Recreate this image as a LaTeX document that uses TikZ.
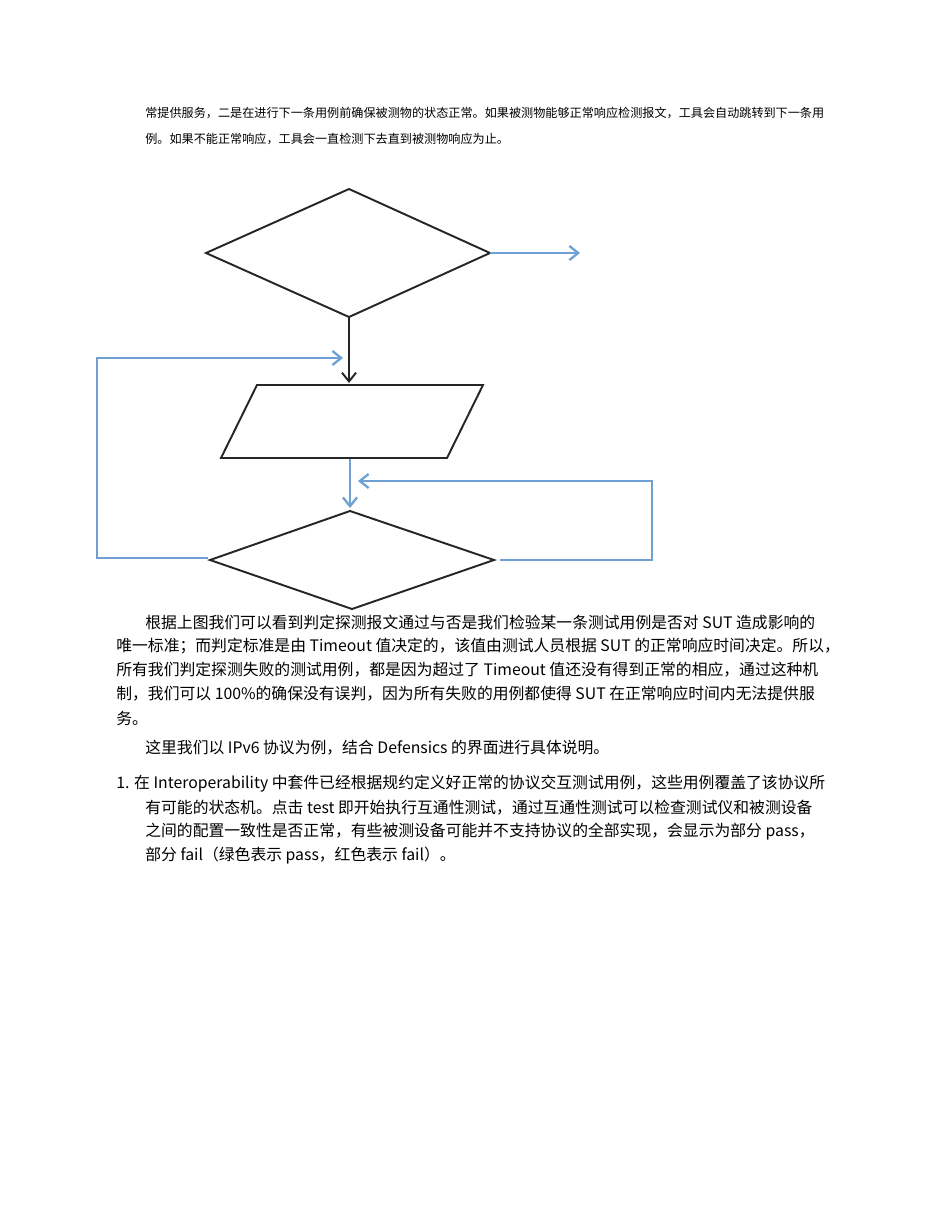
\documentclass[tikz,border=0pt]{standalone}
\usepackage{fontspec}
\setmainfont{Noto Sans CJK SC}
\usetikzlibrary{arrows.meta}
\definecolor{lblue}{RGB}{110,160,210}
\tikzset{
  shapeline/.style={draw=black!85,line width=1.1pt},
  bluearrow/.style={draw=lblue,line width=1.3pt,-{Straight Barb[length=5pt,width=8pt]}},
  blackarrow/.style={draw=black!85,line width=1.1pt,-{Straight Barb[length=5pt,width=8pt]}},
  small/.style={anchor=west,inner sep=0pt,font=\fontsize{6.9}{8}\selectfont},
  body/.style={anchor=west,inner sep=0pt,font=\fontsize{9}{11}\selectfont}
}
\begin{document}
\begin{tikzpicture}[x=0.02cm,y=-0.02cm]
\fill[white] (0,0) rectangle (950,1206);
\useasboundingbox (0,0) rectangle (950,1206);
\node[small] (t1) at (145,113) {常提供服务，二是在进行下一条用例前确保被测物的状态正常。如果被测物能够正常响应检测报文，工具会自动跳转到下一条用};
\node[small] (t2) at (145,139) {例。如果不能正常响应，工具会一直检测下去直到被测物响应为止。};
\draw[shapeline] (349,189) -- (490,253) -- (349,317) -- (206,253) -- cycle;
\coordinate (d1r) at (490,253); \coordinate (d1e) at (580,253);
\coordinate (d1b) at (349,317); \coordinate (p1t) at (349,383);
\draw[shapeline] (257,385) -- (483,385) -- (447,458) -- (221,458) -- cycle;
\coordinate (p1b) at (350,459); \coordinate (d2t) at (350,508);
\draw[shapeline] (350,511) -- (494,560) -- (352,609) -- (210,560) -- cycle;
\draw[bluearrow] (d1r) -- (d1e);
\draw[blackarrow] (d1b) -- (p1t);
\draw[bluearrow] (p1b) -- (d2t);
\coordinate (l1) at (208,558); \coordinate (l2) at (343,358);
\draw[bluearrow] (l1) -- (97,558) -- (97,358) -- (l2);
\coordinate (r1) at (500,560); \coordinate (r2) at (358,481);
\draw[bluearrow] (r1) -- (652,560) -- (652,481) -- (r2);
\node[body] (b1) at (145,622) {根据上图我们可以看到判定探测报文通过与否是我们检验某一条测试用例是否对 SUT 造成影响的};
\node[body] (b2) at (116,646) {唯一标准；而判定标准是由 Timeout 值决定的，该值由测试人员根据 SUT 的正常响应时间决定。所以，};
\node[body] (b3) at (116,670) {所有我们判定探测失败的测试用例，都是因为超过了 Timeout 值还没有得到正常的相应，通过这种机};
\node[body] (b4) at (116,694) {制，我们可以 100\%的确保没有误判，因为所有失败的用例都使得 SUT 在正常响应时间内无法提供服};
\node[body] (b5) at (116,718) {务。};
\node[body] (b6) at (145,748) {这里我们以 IPv6 协议为例，结合 Defensics 的界面进行具体说明。};
\node[body] (c1) at (116,784) {1. 在 Interoperability 中套件已经根据规约定义好正常的协议交互测试用例，这些用例覆盖了该协议所};
\node[body] (c2) at (145,808) {有可能的状态机。点击 test 即开始执行互通性测试，通过互通性测试可以检查测试仪和被测设备};
\node[body] (c3) at (145,832) {之间的配置一致性是否正常，有些被测设备可能并不支持协议的全部实现，会显示为部分 pass，};
\node[body] (c4) at (145,856) {部分 fail（绿色表示 pass，红色表示 fail）。};
\end{tikzpicture}
\end{document}
